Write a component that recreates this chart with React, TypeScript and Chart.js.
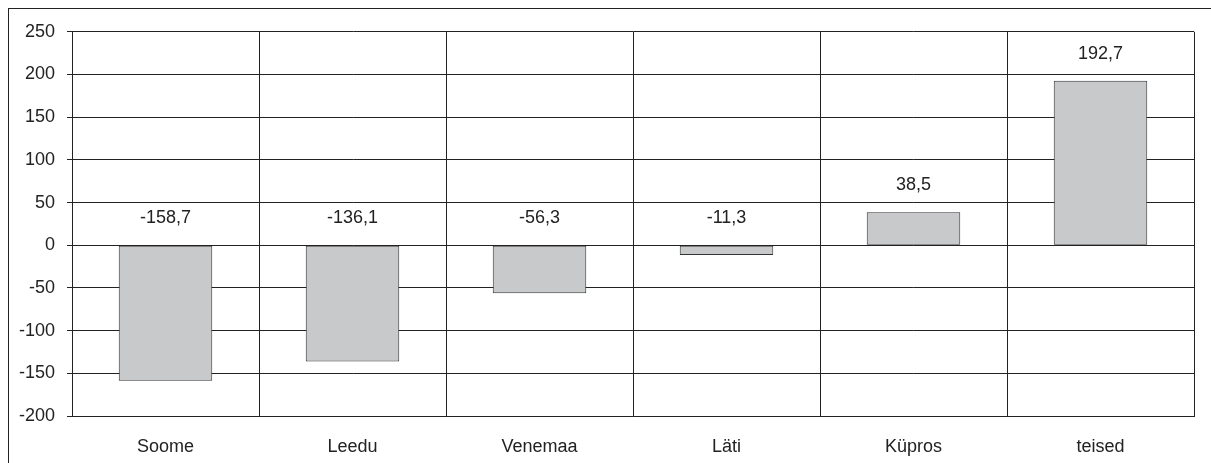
import { useEffect, useRef } from "react"
import { Chart, registerables } from "chart.js"
import type { Plugin } from "chart.js"

Chart.register(...registerables)

const categories = ["Soome", "Leedu", "Venemaa", "Läti", "Küpros", "teised"]
const values = [-158.7, -136.1, -56.3, -11.3, 38.5, 192.7]
const yMin = -200
const yMax = 250
const yStep = 50

const ink = "#222222"
const fontSpec = { family: "'Liberation Sans', Arial, sans-serif", size: 18 }

// value labels above the bar (or above zero for negative bars)
const valueLabels: Plugin<"bar"> = {
  id: "valueLabels",
  afterDatasetsDraw: (chart) => {
    const ctx = chart.ctx
    const meta = chart.getDatasetMeta(0)
    const yScale = chart.scales.y
    ctx.save()
    ctx.font = `${fontSpec.size}px ${fontSpec.family}`
    ctx.fillStyle = ink
    ctx.textAlign = "center"
    ctx.textBaseline = "middle"
    meta.data.forEach((bar, i) => {
      const v = values[i]
      const y = yScale.getPixelForValue(Math.max(0, v)) - 27
      ctx.fillText(v.toFixed(1).replace(".", ","), bar.x, y)
    })
    ctx.restore()
  },
}

export default function App() {
  const chartRef = useRef<HTMLCanvasElement | null>(null)
  const chartInstance = useRef<Chart | null>(null)

  useEffect(() => {
    if (!chartRef.current) return
    if (chartInstance.current) chartInstance.current.destroy()

    const ctx = chartRef.current.getContext("2d")
    if (!ctx) return

    chartInstance.current = new Chart(ctx, {
      type: "bar",
      data: {
        labels: categories,
        datasets: [
          {
            data: values,
            backgroundColor: "#c8c9cb",
            borderColor: "#333333",
            borderWidth: 1,
            borderSkipped: false,
            barPercentage: 0.5,
            categoryPercentage: 1,
          },
        ],
      },
      options: {
        responsive: true,
        maintainAspectRatio: false,
        animation: false,
        layout: { padding: { left: 0, top: 20, right: 45, bottom: 0 } },
        plugins: {
          legend: { display: false },
          tooltip: { enabled: false },
        },
        scales: {
          x: {
            afterFit: (scale) => {
              scale.height = 63
            },
            grid: { color: ink, lineWidth: 1, drawTicks: false, offset: true },
            border: { color: ink, width: 1 },
            ticks: { color: ink, font: fontSpec, padding: 20, maxRotation: 0 },
          },
          y: {
            min: yMin,
            max: yMax,
            afterFit: (scale) => {
              scale.width = 63
            },
            grid: { color: ink, lineWidth: 1, drawTicks: true, tickLength: 5, tickColor: ink },
            border: { color: ink, width: 1 },
            ticks: {
              stepSize: yStep,
              color: ink,
              font: fontSpec,
              padding: 12,
              callback: (v) => String(v),
            },
          },
        },
      },
      plugins: [valueLabels],
    })

    return () => {
      if (chartInstance.current) {
        chartInstance.current.destroy()
        chartInstance.current = null
      }
    }
  }, [])

  return (
    <div
      style={{
        position: "fixed",
        left: 8,
        top: 8,
        width: 1230,
        height: 470,
        border: "1px solid #222",
        background: "#fff",
      }}
    >
      <canvas ref={chartRef}></canvas>
    </div>
  )
}
